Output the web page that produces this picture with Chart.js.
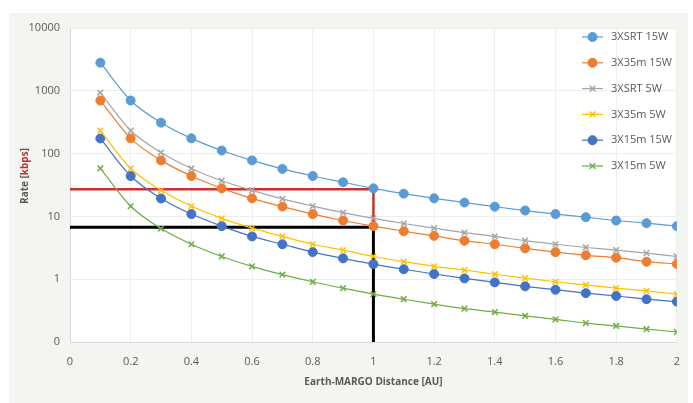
<!DOCTYPE html>
<html>
<head>
<meta charset="utf-8">
<script src="https://cdn.jsdelivr.net/npm/chart.js@4"></script>
<style>
  html, body { margin: 0; padding: 0; background: #ffffff; }
  #wrap { width: 693px; height: 403px; }
</style>
</head>
<body>
<div id="wrap"><canvas id="rateChart" width="693" height="403"></canvas></div>
<script>
const distances = [0.1, 0.2, 0.3, 0.4, 0.5, 0.6, 0.7, 0.8, 0.9, 1.0, 1.1, 1.2, 1.3, 1.4, 1.5, 1.6, 1.7, 1.8, 1.9, 2.0];

const srt15W = [2800, 700, 311, 175, 112, 78, 57, 44, 35, 28, 23, 19.4, 16.6, 14.3, 12.4, 10.9, 9.7, 8.6, 7.8, 7.0];
const m35_15W = [700, 175, 78, 44, 28, 19.4, 14.3, 10.9, 8.6, 7.0, 5.8, 4.9, 4.1, 3.6, 3.1, 2.7, 2.4, 2.2, 1.9, 1.75];
const srt5W = [933, 233, 104, 58, 37, 26, 19, 14.6, 11.5, 9.3, 7.7, 6.5, 5.5, 4.8, 4.1, 3.6, 3.2, 2.9, 2.6, 2.3];
const m35_5W = [233, 58, 26, 14.6, 9.3, 6.5, 4.8, 3.6, 2.9, 2.3, 1.9, 1.6, 1.4, 1.2, 1.04, 0.91, 0.81, 0.72, 0.65, 0.58];
const m15_15W = [174, 44, 19.3, 10.9, 7.0, 4.8, 3.6, 2.7, 2.15, 1.74, 1.44, 1.21, 1.03, 0.89, 0.77, 0.68, 0.6, 0.54, 0.48, 0.44];
const m15_5W = [58, 14.5, 6.4, 3.6, 2.3, 1.6, 1.18, 0.91, 0.72, 0.58, 0.48, 0.4, 0.34, 0.3, 0.26, 0.23, 0.2, 0.18, 0.16, 0.145];

// reference lines (red: 3XSRT 15W at 1 AU, black: 3X35m 15W at 1 AU)
const redLineX = [0, 1, 1];
const redLineY = [27, 27, 6.7];
const blackLineX = [0, 1, 1];
const blackLineY = [6.7, 6.7, 0.1];

const yTickValues = [0.1, 1, 10, 100, 1000, 10000];
const yTickLabels = ["0", "1", "10", "100", "1000", "10000"];

const FONT = "'Open Sans', sans-serif";
const TEXT = "#595959";

function pts(xs, ys) {
  return xs.map((x, i) => ({ x: x, y: ys[i] }));
}

function series(label, values, color, style) {
  const isCross = style === "crossRot";
  return {
    label: label,
    data: pts(distances, values),
    borderColor: color,
    backgroundColor: color,
    borderWidth: 1.2,
    pointStyle: isCross ? "crossRot" : "circle",
    pointRadius: isCross ? 4 : 4.5,
    pointBorderWidth: isCross ? 1.5 : 1,
    pointBorderColor: color,
    pointBackgroundColor: color,
    cubicInterpolationMode: "monotone",
    inLegend: true,
  };
}

function refLine(xs, ys, color, width) {
  return {
    label: "",
    data: pts(xs, ys),
    borderColor: color,
    borderWidth: width,
    pointRadius: 0,
    tension: 0,
    inLegend: false,
  };
}

const bgPlugin = {
  id: "bg",
  beforeDraw(chart) {
    const c = chart.ctx;
    const a = chart.chartArea;
    c.save();
    c.fillStyle = "#ffffff";
    c.fillRect(0, 0, chart.width, chart.height);
    c.fillStyle = "#f2f5f0";
    c.fillRect(9, 13, chart.width - 14, chart.height - 13);
    c.fillStyle = "#ffffff";
    c.fillRect(a.left, a.top, a.right - a.left, a.bottom - a.top);
    c.restore();
  },
  afterDraw(chart) {
    const c = chart.ctx;
    c.save();
    // y axis title, "kbps" in red
    c.translate(25, 176);
    c.rotate(-Math.PI / 2);
    c.font = "bold 10px " + FONT;
    c.textBaseline = "middle";
    const p1 = "Rate [";
    const p2 = "kbps";
    const p3 = "]";
    const w1 = c.measureText(p1).width;
    const w2 = c.measureText(p2).width;
    const w3 = c.measureText(p3).width;
    let x = -(w1 + w2 + w3) / 2;
    c.fillStyle = TEXT;
    c.fillText(p1, x, 0);
    c.fillStyle = "#c0302a";
    c.fillText(p2, x + w1, 0);
    c.fillStyle = TEXT;
    c.fillText(p3, x + w1 + w2, 0);
    c.restore();

    // legend inside the plot, top right
    c.save();
    c.font = "11px " + FONT;
    c.textBaseline = "middle";
    let y = 37;
    chart.data.datasets.forEach((ds) => {
      if (!ds.inLegend) return;
      c.strokeStyle = ds.borderColor;
      c.fillStyle = ds.backgroundColor;
      c.lineWidth = 1.2;
      c.beginPath();
      c.moveTo(582, y);
      c.lineTo(603, y);
      c.stroke();
      c.lineWidth = ds.pointBorderWidth;
      Chart.helpers.drawPoint(c, {
        pointStyle: ds.pointStyle,
        radius: ds.pointRadius,
        borderWidth: ds.pointBorderWidth,
        rotation: 0,
      }, 592.5, y);
      c.fillStyle = TEXT;
      c.fillText(ds.label, 611, y);
      y += 25.8;
    });
    c.restore();
  },
};

const ctx = document.getElementById("rateChart").getContext("2d");

const chart = new Chart(ctx, {
  type: "line",
  data: {
    datasets: [
      series("3XSRT 15W", srt15W, "#5b9bd5", "circle"),
      series("3X35m 15W", m35_15W, "#ed7d31", "circle"),
      series("3XSRT 5W", srt5W, "#a5a5a5", "crossRot"),
      series("3X35m 5W", m35_5W, "#ffc000", "crossRot"),
      series("3X15m 15W", m15_15W, "#4472c4", "circle"),
      series("3X15m 5W", m15_5W, "#70ad47", "crossRot"),
      refLine(redLineX, redLineY, "#c8322b", 2.5),
      refLine(blackLineX, blackLineY, "#000000", 3),
    ],
  },
  options: {
    responsive: false,
    animation: false,
    layout: { padding: { left: 0, top: 28, right: 12, bottom: 0 } },
    plugins: {
      legend: { display: false },
      tooltip: { enabled: false },
    },
    scales: {
      x: {
        type: "linear",
        min: 0,
        max: 2,
        ticks: {
          stepSize: 0.2,
          color: TEXT,
          font: { family: FONT, size: 11 },
          padding: 13,
          callback: (v) => String(Number(v.toFixed(1))),
        },
        grid: { color: "#eeeeee", drawTicks: false },
        border: { color: "#d9d9d9" },
        title: {
          display: true,
          text: "Earth-MARGO Distance [AU]",
          color: TEXT,
          font: { family: FONT, size: 10, weight: "bold" },
          padding: { top: 4, bottom: 15 },
        },
        afterFit: (scale) => { scale.height = 61; },
      },
      y: {
        type: "logarithmic",
        min: 0.1,
        max: 10000,
        afterBuildTicks: (scale) => {
          scale.ticks = yTickValues.map((v) => ({ value: v }));
        },
        ticks: {
          color: TEXT,
          font: { family: FONT, size: 11 },
          padding: 10,
          callback: (v) => {
            const i = yTickValues.indexOf(v);
            return i >= 0 ? yTickLabels[i] : "";
          },
        },
        grid: { color: "#eeeeee", drawTicks: false },
        border: { color: "#d9d9d9" },
        afterFit: (scale) => { scale.width = 70; },
      },
    },
  },
  plugins: [bgPlugin],
});
</script>
</body>
</html>
